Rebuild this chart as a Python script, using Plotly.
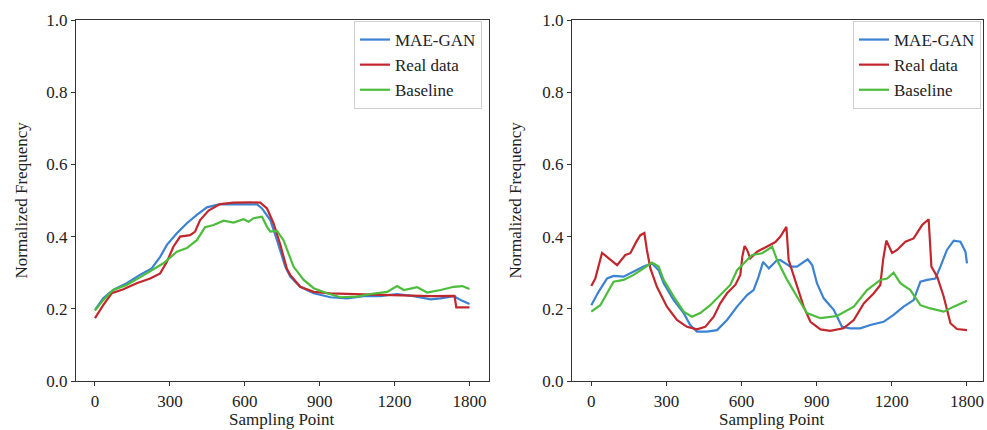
import plotly.graph_objects as go

# ---------------- data ----------------
x_tick_vals = [0, 300, 600, 900, 1200, 1500]
x_tick_text = ["0", "300", "600", "900", "1200", "1800"]
y_tick_vals = [0.0, 0.2, 0.4, 0.6, 0.8, 1.0]

series_names = ["MAE-GAN", "Real data", "Baseline"]
series_colors = ["#3b82d2", "#c0282e", "#4cbc3c"]

# left panel
left_mae_x = [0, 33, 73, 127, 180, 227, 261, 288, 328, 368, 408, 448, 501, 568, 649, 669, 702, 729, 762,
              782, 822, 876, 943, 1010, 1076, 1143, 1210, 1277, 1344, 1384, 1437, 1471, 1500]
left_mae_y = [0.197, 0.229, 0.252, 0.271, 0.294, 0.312, 0.344, 0.377, 0.409, 0.437, 0.46, 0.481, 0.49,
              0.489, 0.489, 0.478, 0.446, 0.39, 0.317, 0.289, 0.261, 0.243, 0.232, 0.229, 0.235, 0.235,
              0.241, 0.235, 0.226, 0.229, 0.235, 0.222, 0.213]
left_real_x = [0, 33, 67, 114, 167, 221, 261, 288, 314, 341, 381, 401, 421, 455, 501, 555, 622, 662, 689,
               715, 742, 769, 782, 822, 876, 943, 1076, 1210, 1344, 1440, 1447, 1500]
left_real_y = [0.174, 0.21, 0.243, 0.254, 0.271, 0.284, 0.298, 0.33, 0.372, 0.40, 0.404, 0.414, 0.446,
               0.472, 0.49, 0.494, 0.495, 0.494, 0.478, 0.437, 0.378, 0.31, 0.294, 0.261, 0.247, 0.243,
               0.240, 0.238, 0.235, 0.236, 0.204, 0.204]
left_base_x = [0, 33, 73, 127, 180, 227, 274, 328, 368, 408, 441, 475, 515, 555, 595, 615, 635, 669, 689,
               702, 729, 755, 779, 795, 836, 876, 929, 983, 1050, 1103, 1170, 1210, 1237, 1290, 1330,
               1384, 1437, 1471, 1500]
left_base_y = [0.195, 0.224, 0.252, 0.266, 0.287, 0.307, 0.326, 0.358, 0.368, 0.39, 0.426, 0.432, 0.444,
               0.439, 0.448, 0.441, 0.451, 0.455, 0.427, 0.414, 0.416, 0.39, 0.349, 0.317, 0.28, 0.257,
               0.243, 0.232, 0.234, 0.241, 0.247, 0.263, 0.252, 0.26, 0.245, 0.252, 0.261, 0.263, 0.255]

# right panel
right_mae_x = [0, 29, 63, 89, 129, 169, 209, 242, 269, 289, 329, 369, 395, 422, 462, 502, 542, 582, 622,
               648, 668, 686, 709, 742, 755, 795, 821, 864, 882, 901, 928, 968, 1001, 1034, 1074, 1114,
               1167, 1207, 1247, 1287, 1314, 1341, 1374, 1394, 1420, 1447, 1474, 1494, 1500]
right_mae_y = [0.21, 0.247, 0.284, 0.291, 0.289, 0.303, 0.317, 0.326, 0.307, 0.271, 0.224, 0.188, 0.155,
               0.137, 0.137, 0.141, 0.169, 0.206, 0.238, 0.252, 0.289, 0.330, 0.312, 0.335, 0.335, 0.317,
               0.317, 0.337, 0.321, 0.271, 0.229, 0.197, 0.150, 0.146, 0.146, 0.155, 0.164, 0.183, 0.206,
               0.224, 0.275, 0.280, 0.284, 0.317, 0.363, 0.389, 0.386, 0.358, 0.326]
right_real_x = [0, 16, 43, 69, 103, 136, 156, 180, 196, 212, 222, 236, 262, 302, 342, 382, 422, 455, 489,
                515, 542, 575, 595, 603, 612, 622, 635, 662, 702, 735, 755, 779, 788, 801, 821, 848, 875,
                915, 954, 1007, 1048, 1088, 1128, 1154, 1165, 1178, 1201, 1221, 1254, 1287, 1321, 1347,
                1358, 1381, 1407, 1434, 1460, 1500]
right_real_y = [0.263, 0.284, 0.355, 0.34, 0.321, 0.349, 0.354, 0.386, 0.404, 0.41, 0.363, 0.312, 0.261,
                0.206, 0.169, 0.150, 0.143, 0.150, 0.178, 0.215, 0.243, 0.266, 0.294, 0.344, 0.374, 0.363,
                0.34, 0.358, 0.374, 0.385, 0.40, 0.427, 0.335, 0.307, 0.261, 0.206, 0.164, 0.143, 0.139,
                0.146, 0.169, 0.215, 0.243, 0.266, 0.335, 0.389, 0.355, 0.363, 0.386, 0.395, 0.432, 0.448,
                0.317, 0.289, 0.234, 0.160, 0.144, 0.141]
right_base_x = [0, 36, 63, 89, 129, 169, 209, 242, 269, 289, 329, 369, 402, 435, 475, 515, 555, 582, 608,
                642, 682, 722, 742, 782, 821, 861, 915, 981, 1048, 1101, 1154, 1181, 1207, 1234, 1274,
                1314, 1354, 1407, 1447, 1481, 1500]
right_base_y = [0.192, 0.21, 0.243, 0.275, 0.280, 0.294, 0.312, 0.328, 0.317, 0.280, 0.234, 0.192, 0.178,
                0.188, 0.21, 0.238, 0.266, 0.307, 0.326, 0.349, 0.354, 0.372, 0.335, 0.280, 0.234, 0.188,
                0.174, 0.18, 0.206, 0.252, 0.280, 0.284, 0.300, 0.271, 0.252, 0.21, 0.201, 0.192, 0.206,
                0.215, 0.222]

# ---------------- figure ----------------
W, H = 987, 430
FONT = "Liberation Serif, Times New Roman, serif"
TXT = "#222222"

fig = go.Figure()

panels = [
    ("x", "y", "legend", [(left_mae_x, left_mae_y), (left_real_x, left_real_y), (left_base_x, left_base_y)]),
    ("x2", "y2", "legend2", [(right_mae_x, right_mae_y), (right_real_x, right_real_y), (right_base_x, right_base_y)]),
]
for xa, ya, lg, data in panels:
    for name, color, (xs, ys) in zip(series_names, series_colors, data):
        fig.add_trace(go.Scatter(x=xs, y=ys, mode="lines", name=name, xaxis=xa, yaxis=ya,
                                 legend=lg, line=dict(color=color, width=2.2)))

def px_x(p):
    return p / W

def px_y(p):
    return 1 - p / H

ydom = [px_y(381), px_y(20)]
axis_common = dict(showgrid=False, zeroline=False, showline=True, linecolor="#333333", linewidth=1.2,
                   mirror=True, ticks="outside", ticklen=4, tickcolor="#333333", tickwidth=1,
                   automargin=False,
                   tickfont=dict(family=FONT, size=17, color=TXT))

legend_common = dict(xanchor="left", yanchor="top", bgcolor="white", bordercolor="#d0d0d0",
                     borderwidth=1, itemwidth=30, tracegroupgap=0,
                     font=dict(family=FONT, size=17, color=TXT))

fig.update_layout(
    template="none",
    width=W, height=H, margin=dict(l=0, r=0, t=0, b=0, pad=0), autosize=False,
    paper_bgcolor="white", plot_bgcolor="white",
    font=dict(family=FONT, size=17, color=TXT),
    xaxis=dict(domain=[px_x(76), px_x(489)], range=[-76, 1578], tickvals=x_tick_vals,
               ticktext=x_tick_text, anchor="y", **axis_common),
    yaxis=dict(domain=ydom, range=[0, 1], tickvals=y_tick_vals, tickformat=".1f", anchor="x",
               **axis_common),
    xaxis2=dict(domain=[px_x(572), px_x(983)], range=[-77, 1564], tickvals=x_tick_vals,
                ticktext=x_tick_text, anchor="y2", **axis_common),
    yaxis2=dict(domain=ydom, range=[0, 1], tickvals=y_tick_vals, tickformat=".1f", anchor="x2",
                **axis_common),
    legend=dict(x=px_x(354), y=px_y(21), **legend_common),
    legend2=dict(x=px_x(853), y=px_y(21), **legend_common),
    showlegend=True,
)

annots = [
    dict(text="Normalized Frequency", x=px_x(21), y=px_y(200.5), textangle=-90),
    dict(text="Normalized Frequency", x=px_x(515), y=px_y(200.5), textangle=-90),
    dict(text="Sampling Point", x=px_x(282), y=px_y(419)),
    dict(text="Sampling Point", x=px_x(772), y=px_y(419)),
]
for a in annots:
    fig.add_annotation(xref="paper", yref="paper", showarrow=False, xanchor="center", yanchor="middle",
                       font=dict(family=FONT, size=17, color=TXT), **a)

fig.write_html("out.html", config={"displayModeBar": False},
               post_script="document.body.style.margin='0px';document.body.style.overflow='hidden';")
